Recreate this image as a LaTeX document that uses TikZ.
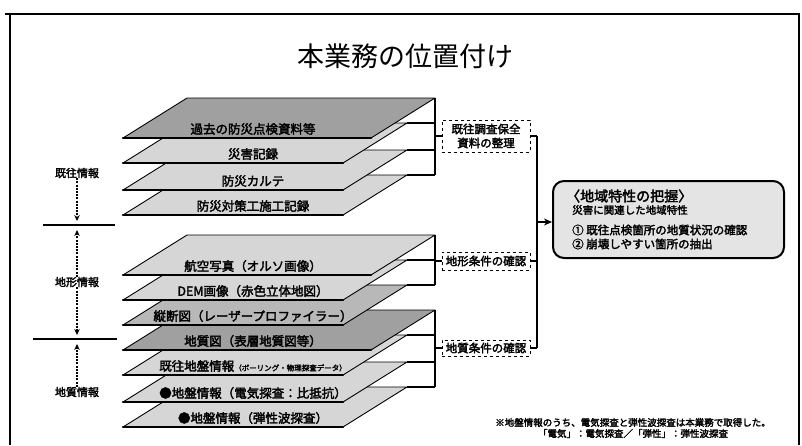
\documentclass[tikz,border=0pt]{standalone}
\usepackage{fontspec}
\setmainfont{Noto Sans CJK JP}
\newfontfamily\jpb{Noto Sans CJK JP}[FakeBold=2.5]
\usetikzlibrary{arrows.meta}
\definecolor{laylight}{HTML}{D6D6D6}
\definecolor{laydark}{HTML}{A0A0A0}
\definecolor{laymid}{HTML}{B8B8B8}
\definecolor{boxfill}{HTML}{E4E4E4}
\tikzset{
  layershape/.style={draw=black, line width=0.9pt, line join=round},
  laybottom/.style={line width=2.2pt, line cap=round},
  laytext/.style={inner sep=0pt, font=\jpb\fontsize{12.5}{14}\selectfont},
  sidelabel/.style={inner sep=0pt, font=\jpb\fontsize{11}{13}\selectfont},
  dotarrow/.style={dash pattern=on 2pt off 1.2pt, line width=1.2pt, -{Stealth[length=6pt,width=5.5pt]}},
  sepline/.style={line width=1.6pt},
  brk/.style={line width=1.3pt},
  midbox/.style={draw, dashed, line width=0.9pt, fill=white, minimum width=88pt, inner sep=1pt, align=center, font=\jpb\fontsize{11.5}{14}\selectfont},
  boxtext/.style={inner sep=0pt, anchor=west, font=\jpb\fontsize{11.5}{13}\selectfont},
}
% #1 name, #2 bottom y, #3 top-right x, #4 fill, #5 text, #6 draw connector (1/0)
\newcommand\mklayer[6]{%
  \ifnum#6=1 \draw[brk] (#3,#2-40) -- (435,#2-40);\fi
  \filldraw[layershape, fill=#4] (123,#2) -- (#3-64,#2) -- (#3,#2-40) -- (187,#2-40) -- cycle;
  \draw[laybottom] (123,#2) -- (#3-64,#2);
  \node[laytext] (#1) at (253,#2-9) {#5};
}
\begin{document}
\begin{tikzpicture}[x=1pt,y=-1pt]
\useasboundingbox (0,0) rectangle (802,445);
\fill[white] (0,0) rectangle (802,445);
% frame
\draw[line width=2pt] (5,14) -- (800,14);
\draw[line width=1.2pt] (10,14) -- (10,445);
\draw[line width=1.2pt] (799,14) -- (799,445);
% title
\node[inner sep=0pt, font=\fontsize{27}{30}\selectfont] (title) at (405,56) {本業務の位置付け};
% layers (bottom to top)
\mklayer{l11}{427}{407}{laylight}{●地盤情報（弾性波探査）}{1}
\mklayer{l10}{402}{407}{laylight}{●地盤情報（電気探査：比抵抗）}{1}
\mklayer{l9}{375}{407}{laylight}{既往地盤情報{\fontsize{7.5}{9}\selectfont（ボーリング・物理探査データ）}}{1}
\mklayer{l8}{350}{435}{laydark}{地質図（表層地質図等）}{0}
\mklayer{l7}{325}{407}{laymid}{縦断図（レーザープロファイラー）}{1}
\mklayer{l6}{300}{407}{laylight}{DEM画像（赤色立体地図）}{1}
\mklayer{l5}{275}{435}{laylight}{航空写真（オルソ画像）}{0}
\mklayer{l4}{215}{407}{laylight}{防災対策工施工記録}{1}
\mklayer{l3}{190}{407}{laylight}{防災カルテ}{1}
\mklayer{l2}{163}{407}{laylight}{災害記録}{1}
\mklayer{l1}{138}{435}{laydark}{過去の防災点検資料等}{0}
% brackets
\coordinate (b1t) at (435,98);  \coordinate (b1b) at (435,175); \coordinate (b1m) at (435,136);
\coordinate (b2t) at (435,235); \coordinate (b2b) at (435,285); \coordinate (b2m) at (435,261);
\coordinate (b3t) at (435,310); \coordinate (b3b) at (435,387); \coordinate (b3m) at (435,348);
\draw[brk] (b1t) -- (b1b);
\draw[brk] (b2t) -- (b2b);
\draw[brk] (b3t) -- (b3b);
% middle boxes
\node[midbox, minimum height=32pt] (m1) at (486,136) {既往調査保全\\資料の整理};
\node[midbox, minimum height=18pt] (m2) at (486,261) {地形条件の確認};
\node[midbox, minimum height=16pt] (m3) at (486,348) {地質条件の確認};
\draw[brk] (b1m) -- (m1.west);
\draw[brk] (b2m) -- (m2.west);
\draw[brk] (b3m) -- (m3.west);
\coordinate (r1) at (537,136);
\coordinate (r3) at (537,348);
\coordinate (r2) at (537,222);
\draw[brk] (m1.east) -- (r1);
\draw[brk] (m2.east) -- (m2.east -| r1);
\draw[brk] (m3.east) -- (r3);
\draw[brk] (r1) -- (r3);
% right box
\node[draw, line width=2pt, rounded corners=11pt, fill=boxfill, minimum width=231pt, minimum height=77pt, anchor=north west, inner sep=0pt] (chiiki) at (552,180) {};
\draw[brk, -{Stealth[length=8pt,width=7pt]}] (r2) -- (r2 -| chiiki.west);
\node[boxtext, font=\jpb\fontsize{14}{16}\selectfont] (t1) at (566,196) {〈地域特性の把握〉};
\node[boxtext, font=\jpb\fontsize{10.5}{12}\selectfont] (t2) at (572,210) {災害に関連した地域特性};
\node[boxtext] (t3) at (572,230) {① 既往点検箇所の地質状況の確認};
\node[boxtext] (t4) at (572,244) {② 崩壊しやすい箇所の抽出};
% left labels
\node[sidelabel] (kio) at (77,173) {既往情報};
\node[sidelabel] (chikei) at (77,282) {地形情報};
\node[sidelabel] (chishitsu) at (77,392) {地質情報};
\coordinate (s1a) at (43,225); \coordinate (s1b) at (115,225);
\coordinate (s2a) at (33,339); \coordinate (s2b) at (117,339);
\draw[sepline] (s1a) -- (s1b);
\draw[sepline] (s2a) -- (s2b);
\draw[dotarrow] (kio.south) -- (77,221);
\draw[dotarrow] (chikei.north) -- (77,230);
\draw[dotarrow] (chikei.south) -- (77,335);
\draw[dotarrow] (chishitsu.north) -- (77,344);
% footnote
\node[inner sep=0pt, align=center, font=\jpb\fontsize{9.5}{11}\selectfont] (note) at (633,428) {※地盤情報のうち、電気探査と弾性波探査は本業務で取得した。\\「電気」：電気探査／「弾性」：弾性波探査};
\end{tikzpicture}
\end{document}
